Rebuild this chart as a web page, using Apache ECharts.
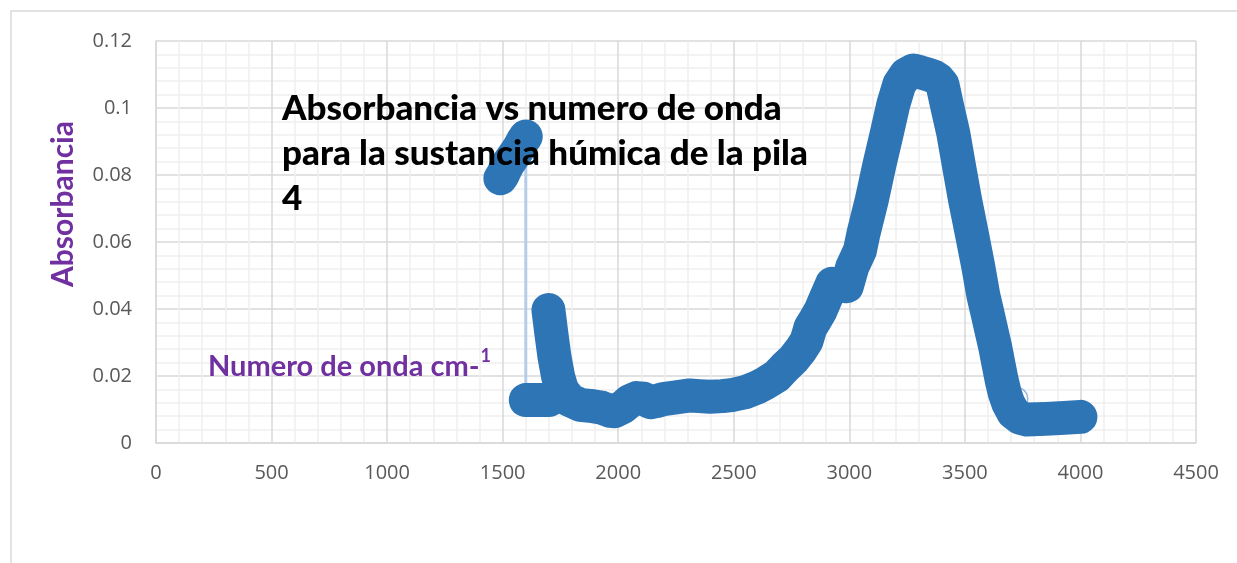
<!DOCTYPE html>
<html>
<head>
<meta charset="utf-8">
<script src="https://cdn.jsdelivr.net/npm/echarts@6/dist/echarts.min.js"></script>
<style>
html,body{margin:0;padding:0;background:#fff;}
#c{width:1237px;height:563px;}
</style>
</head>
<body>
<div id="c"></div>
<script>
// X ticks and Y ticks
const xTicks = [0, 500, 1000, 1500, 2000, 2500, 3000, 3500, 4000, 4500];
const yTicks = [0, 0.02, 0.04, 0.06, 0.08, 0.1, 0.12];

// Data segments: [numero de onda, absorbancia]
const clusterPts = [[1490,0.0790],[1500,0.0800],[1510,0.0815],[1525,0.0835],[1545,0.0855],[1570,0.0880],[1590,0.0905],[1600,0.0915]];
const dropPts = [[1600,0.0915],[1600,0.0130]];
const baselinePts = [[1600,0.0128],[1700,0.0128]];
const mainPts = [[1698,0.0397],[1710,0.0330],[1724,0.0258],[1740,0.0198],[1757,0.0158],[1790,0.0128],[1835,0.0114],[1878,0.0111],[1930,0.0105],[1965,0.0096],[1985,0.0095],[2022,0.0108],[2050,0.0125],[2080,0.0134],[2110,0.0132],[2140,0.0122],[2165,0.0125],[2195,0.0131],[2250,0.0136],[2311,0.0142],[2350,0.0140],[2397,0.0138],[2450,0.0140],[2498,0.0144],[2550,0.0152],[2599,0.0165],[2640,0.0180],[2686,0.0200],[2720,0.0225],[2758,0.0250],[2790,0.0278],[2815,0.0305],[2832,0.0345],[2850,0.0365],[2875,0.0395],[2900,0.0435],[2925,0.0475],[2955,0.0472],[2989,0.0468],[3013,0.0526],[3046,0.0575],[3061,0.0625],[3097,0.0725],[3130,0.0830],[3162,0.0924],[3190,0.1010],[3216,0.1070],[3245,0.1100],[3277,0.1112],[3310,0.1106],[3340,0.1100],[3365,0.1094],[3385,0.1085],[3403,0.1070],[3425,0.1000],[3450,0.0924],[3475,0.0825],[3501,0.0725],[3530,0.0625],[3558,0.0526],[3580,0.0440],[3598,0.0387],[3615,0.0335],[3631,0.0287],[3645,0.0237],[3659,0.0188],[3672,0.0150],[3688,0.0118],[3710,0.0090],[3740,0.0075],[3768,0.0070],[3850,0.0072],[3930,0.0075],[4000,0.0078]];
const hollowPts = [[1698,0.0402],[3722,0.0132]];

const titleLines = ['Absorbancia vs numero de onda', 'para la sustancia húmica de la pila', '4'];
const xName = 'Numero de onda cm-';
const yName = 'Absorbancia';

const BLUE = '#2E75B6';
const LW = 34;

const chart = echarts.init(document.getElementById('c'), null, {renderer: 'canvas'});
function thick() { return {width: LW, color: BLUE, cap: 'round', join: 'round'}; }
chart.setOption({
  animation: false,
  backgroundColor: '#fff',
  grid: {left: 156, top: 41, width: 1040, height: 402, containLabel: false},
  xAxis: {
    type: 'value', min: xTicks[0], max: xTicks[xTicks.length-1], interval: 500,
    axisLine: {show: true, lineStyle: {color: '#D9D9D9', width: 1.5}},
    axisTick: {show: false},
    axisLabel: {color: '#595959', fontFamily: 'Open Sans', fontSize: 20, margin: 20,
      formatter: v => String(v)},
    splitLine: {show: true, lineStyle: {color: '#D9D9D9', width: 1.5}},
    minorTick: {show: false, splitNumber: 5},
    minorSplitLine: {show: true, lineStyle: {color: '#F0F0F0', width: 1.5}}
  },
  yAxis: {
    type: 'value', min: yTicks[0], max: yTicks[yTicks.length-1], interval: 0.02,
    axisLine: {show: true, lineStyle: {color: '#D9D9D9', width: 1.5}},
    axisTick: {show: false},
    axisLabel: {color: '#595959', fontFamily: 'Open Sans', fontSize: 20, margin: 24,
      formatter: v => String(+v.toFixed(2))},
    splitLine: {show: true, lineStyle: {color: '#D9D9D9', width: 1.5}},
    minorTick: {show: false, splitNumber: 5},
    minorSplitLine: {show: true, lineStyle: {color: '#F0F0F0', width: 1.5}}
  },
  title: [{
    text: titleLines.join('\n'),
    left: 277, top: 81,
    textStyle: {fontFamily: 'Lato', fontWeight: 900, fontSize: 35, color: '#000', lineHeight: 45}
  }, {
    text: '{m|' + xName + '}{s|1}',
    left: 203, top: 342,
    textStyle: {rich: {
      m: {fontFamily: 'Lato', fontWeight: 'bold', fontSize: 29, color: '#7030A0', verticalAlign: 'bottom', lineHeight: 34},
      s: {fontFamily: 'Lato', fontWeight: 'bold', fontSize: 18, color: '#7030A0', verticalAlign: 'top', lineHeight: 34, padding: [0,0,16,1]}
    }}
  }],
  graphic: [{
    type: 'rect', z: -1, silent: true,
    shape: {x: 11, y: 11, width: 1400, height: 700},
    style: {fill: 'none', stroke: '#D9D9D9', lineWidth: 1.5}
  }, {
    type: 'text', x: 63, y: 204, rotation: Math.PI/2,
    style: {text: yName, fill: '#7030A0', font: 'bold 30px Lato', align: 'center', verticalAlign: 'middle'}
  }],
  series: [
    {type: 'line', data: dropPts, symbol: 'none', lineStyle: {width: 3, color: '#B4CDEA'}, z: 2},
    {type: 'scatter', data: hollowPts, symbol: 'circle', symbolSize: 23,
      itemStyle: {color: 'rgba(255,255,255,0)', borderColor: '#7FA9D6', borderWidth: 1.5}, z: 2},
    {type: 'line', data: clusterPts, symbol: 'none', lineStyle: thick(), z: 3},
    {type: 'line', data: baselinePts, symbol: 'none', lineStyle: thick(), z: 3},
    {type: 'line', data: mainPts, symbol: 'none', lineStyle: thick(), z: 3}
  ]
});
</script>
</body>
</html>
